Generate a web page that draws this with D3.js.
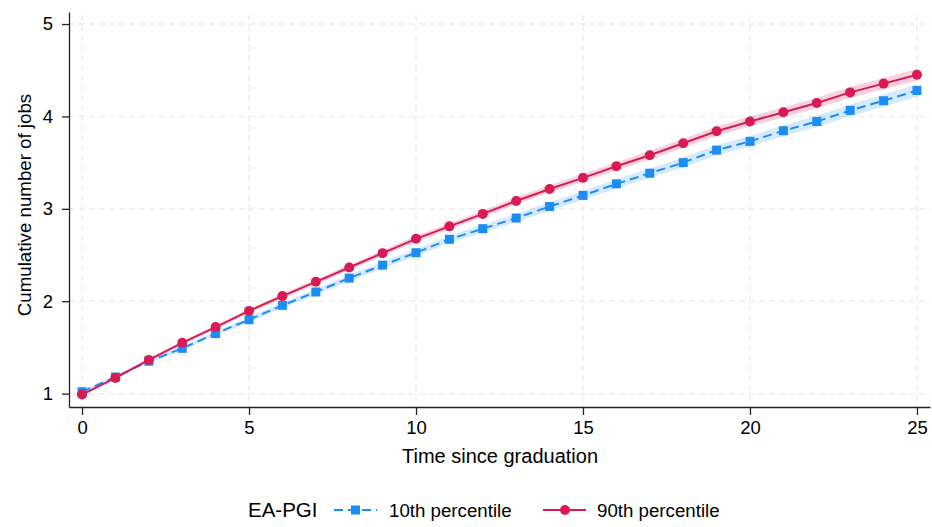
<!DOCTYPE html>
<html>
<head>
<meta charset="utf-8">
<script src="https://cdn.jsdelivr.net/npm/d3@7"></script>
<style>
  body { margin: 0; background: #fff; }
  svg { font-family: "Liberation Sans", Arial, sans-serif; }
</style>
</head>
<body>
<script>
// Data
const years = d3.range(0, 26)
const p10 = [1.02, 1.18, 1.35, 1.49, 1.65, 1.80, 1.955, 2.10, 2.25, 2.39, 2.525, 2.67, 2.785, 2.90, 3.025, 3.145, 3.27, 3.385, 3.50, 3.635, 3.73, 3.845, 3.945, 4.065, 4.17, 4.28]
const p90 = [0.99, 1.17, 1.365, 1.55, 1.72, 1.895, 2.055, 2.21, 2.365, 2.52, 2.675, 2.81, 2.945, 3.085, 3.215, 3.335, 3.46, 3.58, 3.71, 3.84, 3.945, 4.045, 4.145, 4.26, 4.355, 4.45]
// half-width of the confidence band
const ci10 = [0.012, 0.015, 0.018, 0.021, 0.024, 0.027, 0.03, 0.032, 0.034, 0.036, 0.038, 0.04, 0.042, 0.044, 0.046, 0.048, 0.05, 0.052, 0.054, 0.056, 0.058, 0.06, 0.062, 0.064, 0.066, 0.068]
const ci90 = [0.01, 0.012, 0.015, 0.018, 0.02, 0.022, 0.025, 0.027, 0.029, 0.031, 0.033, 0.035, 0.037, 0.039, 0.041, 0.043, 0.045, 0.047, 0.049, 0.051, 0.053, 0.055, 0.057, 0.059, 0.061, 0.063]
const xTicks = [0, 5, 10, 15, 20, 25]
const yTicks = [1, 2, 3, 4, 5]

const w = 932
const h = 527
const margin = {left: 69, right: 2, top: 12, bottom: 120}

const blue = "#1e8cf5"
const red = "#d81b55"

const svg = d3.select("body")
    .append("svg")
    .attr("width", w)
    .attr("height", h)

const x = d3.scaleLinear()
    .domain([-0.39, 25.39])
    .range([margin.left, w - margin.right])

const y = d3.scaleLinear()
    .domain([0.855, 5.13])
    .range([h - margin.bottom, margin.top])

// grid
svg.append("g")
    .selectAll("line")
    .data(yTicks)
    .join("line")
    .attr("x1", margin.left)
    .attr("x2", w - margin.right)
    .attr("y1", d => y(d))
    .attr("y2", d => y(d))
    .attr("stroke", "#ebebeb")
    .attr("stroke-width", 1.3)
    .attr("stroke-dasharray", "6,4")

svg.append("g")
    .selectAll("line")
    .data(xTicks)
    .join("line")
    .attr("x1", d => x(d))
    .attr("x2", d => x(d))
    .attr("y1", margin.top + 3)
    .attr("y2", h - margin.bottom)
    .attr("stroke", "#ebebeb")
    .attr("stroke-width", 1.3)
    .attr("stroke-dasharray", "6,4")

// confidence bands
const series = [
    {vals: p10, ci: ci10, color: blue, fill: "rgba(30,140,245,0.18)", dash: "9,5", shape: "square"},
    {vals: p90, ci: ci90, color: red, fill: "rgba(216,27,85,0.2)", dash: null, shape: "circle"}
]

series.forEach(s => {
    const area = d3.area()
        .x((d, i) => x(years[i]))
        .y0((d, i) => y(d - s.ci[i]))
        .y1((d, i) => y(d + s.ci[i]))
    svg.append("path")
        .datum(s.vals)
        .attr("d", area)
        .attr("fill", s.fill)
})

series.forEach(s => {
    const line = d3.line()
        .x((d, i) => x(years[i]))
        .y(d => y(d))
    svg.append("path")
        .datum(s.vals)
        .attr("d", line)
        .attr("fill", "none")
        .attr("stroke", s.color)
        .attr("stroke-width", 2)
        .attr("stroke-dasharray", s.dash)

    if (s.shape === "square") {
        svg.append("g")
            .selectAll("rect")
            .data(s.vals)
            .join("rect")
            .attr("x", (d, i) => x(years[i]) - 4.5)
            .attr("y", d => y(d) - 4.5)
            .attr("width", 9)
            .attr("height", 9)
            .attr("fill", s.color)
    } else {
        svg.append("g")
            .selectAll("circle")
            .data(s.vals)
            .join("circle")
            .attr("cx", (d, i) => x(years[i]))
            .attr("cy", d => y(d))
            .attr("r", 5)
            .attr("fill", s.color)
    }
})

// axes
const xAxis = svg.append("g")
    .attr("transform", `translate(0, ${h - margin.bottom})`)
    .call(d3.axisBottom(x).tickValues(xTicks).tickSize(8).tickPadding(6).tickSizeOuter(0))
xAxis.select(".domain").attr("stroke", "#222").attr("stroke-width", 1.3)
xAxis.selectAll(".tick line").attr("stroke", "#222").attr("stroke-width", 1.3)
xAxis.selectAll("text").attr("font-size", 18.5).attr("fill", "#000")

const yAxis = svg.append("g")
    .attr("transform", `translate(${margin.left}, 0)`)
    .call(d3.axisLeft(y).tickValues(yTicks).tickFormat(d3.format("d")).tickSize(7).tickPadding(9).tickSizeOuter(0))
yAxis.select(".domain").attr("stroke", "#222").attr("stroke-width", 1.3)
yAxis.selectAll(".tick line").attr("stroke", "#222").attr("stroke-width", 1.3)
yAxis.selectAll("text").attr("font-size", 18.5).attr("fill", "#000")

// axis titles
svg.append("text")
    .attr("x", 500)
    .attr("y", 463)
    .attr("text-anchor", "middle")
    .attr("font-size", 20)
    .text("Time since graduation")

svg.append("text")
    .attr("transform", `translate(24, 205) rotate(-90)`)
    .attr("text-anchor", "middle")
    .attr("dy", "0.35em")
    .attr("font-size", 18.7)
    .text("Cumulative number of jobs")

// legend
const legY = 510
const legend = svg.append("g")
legend.append("text")
    .attr("x", 248).attr("y", legY + 7)
    .attr("font-size", 20.5)
    .text("EA-PGI")

legend.append("line")
    .attr("x1", 334).attr("x2", 377).attr("y1", legY).attr("y2", legY)
    .attr("stroke", blue).attr("stroke-width", 2).attr("stroke-dasharray", "9,5")
legend.append("rect")
    .attr("x", 351).attr("y", legY - 4.5).attr("width", 9).attr("height", 9)
    .attr("fill", blue)
legend.append("text")
    .attr("x", 389).attr("y", legY + 7)
    .attr("font-size", 18.7)
    .text("10th percentile")

legend.append("line")
    .attr("x1", 543).attr("x2", 586).attr("y1", legY).attr("y2", legY)
    .attr("stroke", red).attr("stroke-width", 2)
legend.append("circle")
    .attr("cx", 565).attr("cy", legY).attr("r", 5)
    .attr("fill", red)
legend.append("text")
    .attr("x", 597).attr("y", legY + 7)
    .attr("font-size", 18.7)
    .text("90th percentile")
</script>
</body>
</html>
